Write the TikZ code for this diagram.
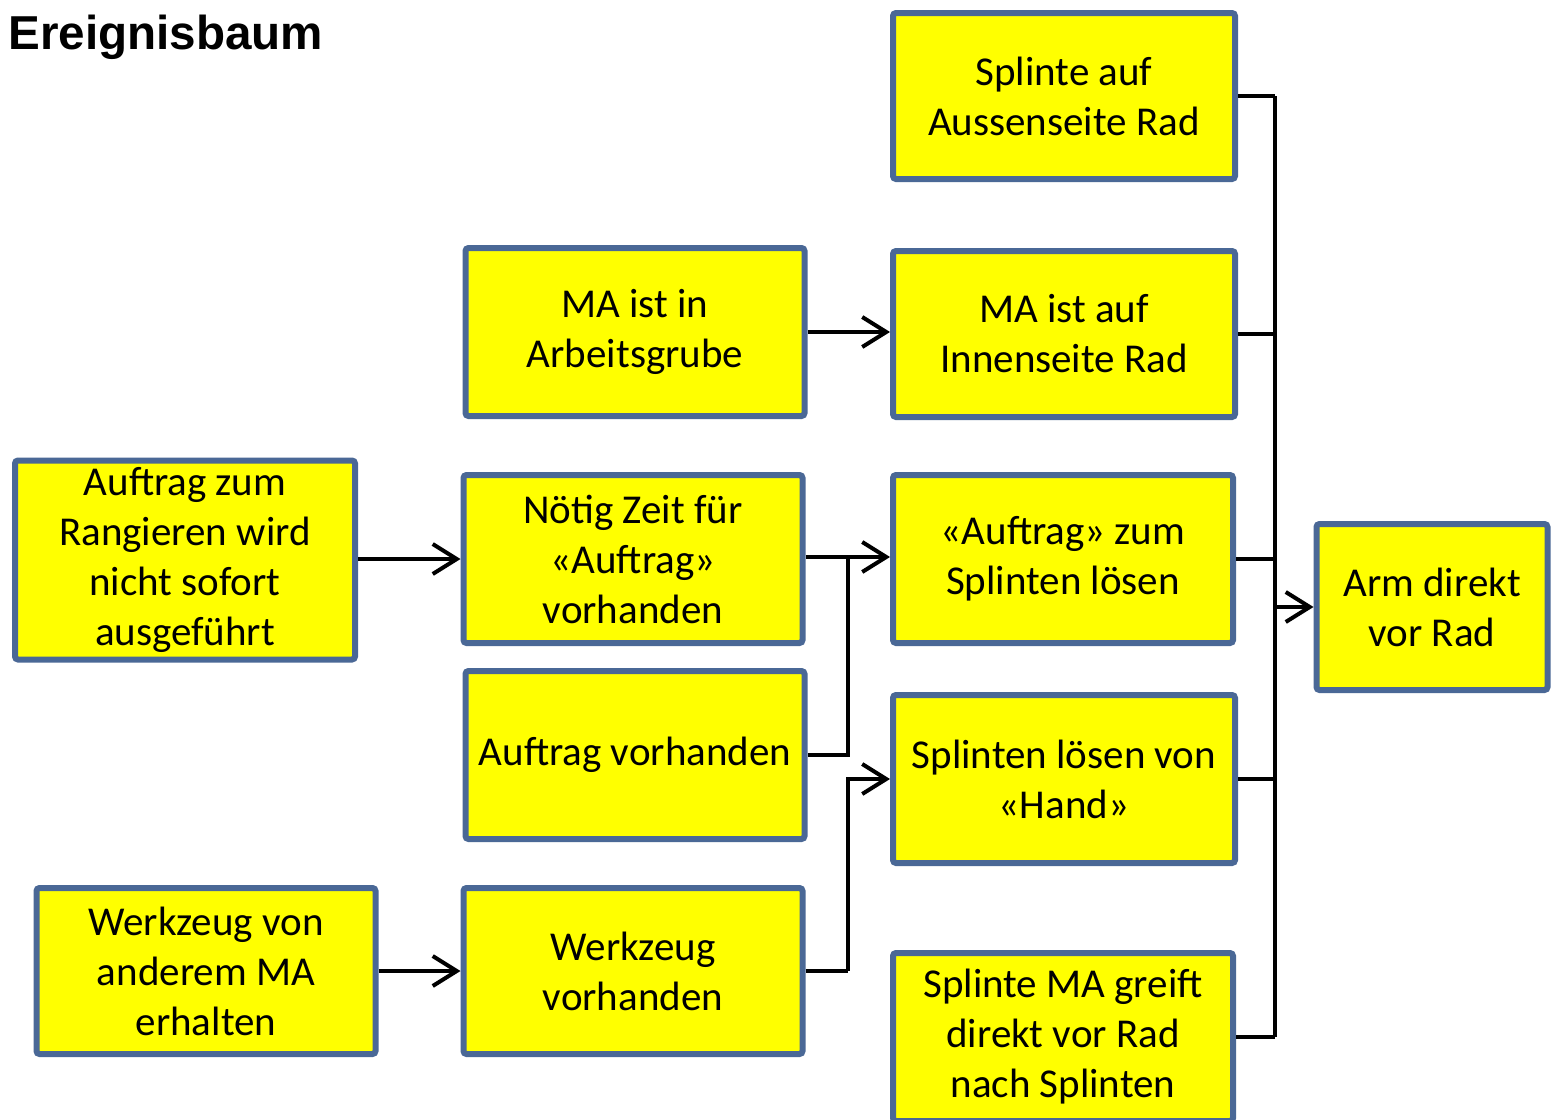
\documentclass[tikz,border=0pt]{standalone}
\usepackage{fontspec}
\setmainfont{Carlito}
\newfontfamily\titlefont{Liberation Sans}
\usetikzlibrary{arrows.meta}
\definecolor{boxborder}{RGB}{74,104,150}
\definecolor{boxfill}{RGB}{255,255,0}
\tikzset{
  evbox/.style={draw=boxborder, fill=boxfill, line width=3pt, rounded corners=1.5pt,
    inner sep=0pt, align=center, text=black,
    font=\fontsize{20.5pt}{25pt}\selectfont,
    minimum width=170.5pt, minimum height=84pt},
  conn/.style={line width=1.8pt, draw=black},
  arr/.style={conn, -{Straight Barb[length=12pt,width=15pt,line width=2pt]}}
}
\begin{document}
\begin{tikzpicture}[x=0.5pt,y=-0.5pt]
\useasboundingbox (0,0) rectangle (1552,1119);
\fill[white] (0,0) rectangle (1552,1119);

\node[anchor=base west, inner sep=0pt, font=\titlefont\bfseries\fontsize{23.8pt}{28pt}\selectfont] (title) at (8,49) {Ereignisbaum};

\node[evbox, minimum width=171pt, minimum height=83pt] (b1) at (1064,96) {Splinte auf\\Aussenseite Rad};
\node[evbox, minimum width=169.5pt, minimum height=84pt] (b2) at (635,332) {MA ist in\\Arbeitsgrube};
\node[evbox, minimum width=171pt, minimum height=83pt] (b3) at (1064,334) {MA ist auf\\Innenseite Rad};
\node[evbox, minimum width=170pt, minimum height=99.5pt] (b4) at (185,560) {Auftrag zum\\Rangieren wird\\nicht sofort\\ausgeführt};
\node[evbox, minimum width=169.5pt, minimum height=84pt] (b5) at (633,559) {Nötig Zeit für\\«Auftrag»\\vorhanden};
\node[evbox, minimum width=170pt, minimum height=84pt] (b6) at (1063,559) {«Auftrag» zum\\Splinten lösen};
\node[evbox, minimum width=169.5pt, minimum height=84pt] (b7) at (635,755) {Auftrag vorhanden};
\node[evbox, minimum width=171pt, minimum height=84pt] (b8) at (1064,779) {Splinten lösen von\\«Hand»};
\node[evbox, minimum width=115.5pt, minimum height=83pt] (b9) at (1432,607) {Arm direkt\\vor Rad};
\node[evbox, minimum width=169.5pt, minimum height=83pt] (b10) at (206,971) {Werkzeug von\\anderem MA\\erhalten};
\node[evbox, minimum width=169.5pt, minimum height=83pt] (b11) at (633,971) {Werkzeug\\vorhanden};
\node[evbox, minimum width=170pt, minimum height=84pt] (b12) at (1063,1037) {Splinte MA greift\\direkt vor Rad\\nach Splinten};

\coordinate (ja) at (848,557);
\coordinate (jb) at (848,971);
\coordinate (bus) at (1275,0);

% left part
\draw[arr] (b2.east) -- (b3.west |- b2.east);
\draw[arr] (b4.east |- b5.west) -- (b5.west);
\draw[arr] (b5.east |- ja) -- (b6.west |- ja);
\draw[conn] (b7.east) -| (ja);
\draw[arr] (b10.east |- jb) -- (b11.west |- jb);
\draw[conn] (b11.east |- jb) -- (jb);
\draw[arr] (jb) |- (b8.west);

% right bus
\draw[conn] (b1.east) -- (b1.east -| bus);
\draw[conn] (b3.east) -- (b3.east -| bus);
\draw[conn] (b6.east) -- (b6.east -| bus);
\draw[conn] (b8.east) -- (b8.east -| bus);
\draw[conn] (b12.east) -- (b12.east -| bus);
\draw[conn] (b1.east -| bus) -- (b12.east -| bus);
\draw[arr] (b9.west -| bus) -- (b9.west);
\end{tikzpicture}
\end{document}
